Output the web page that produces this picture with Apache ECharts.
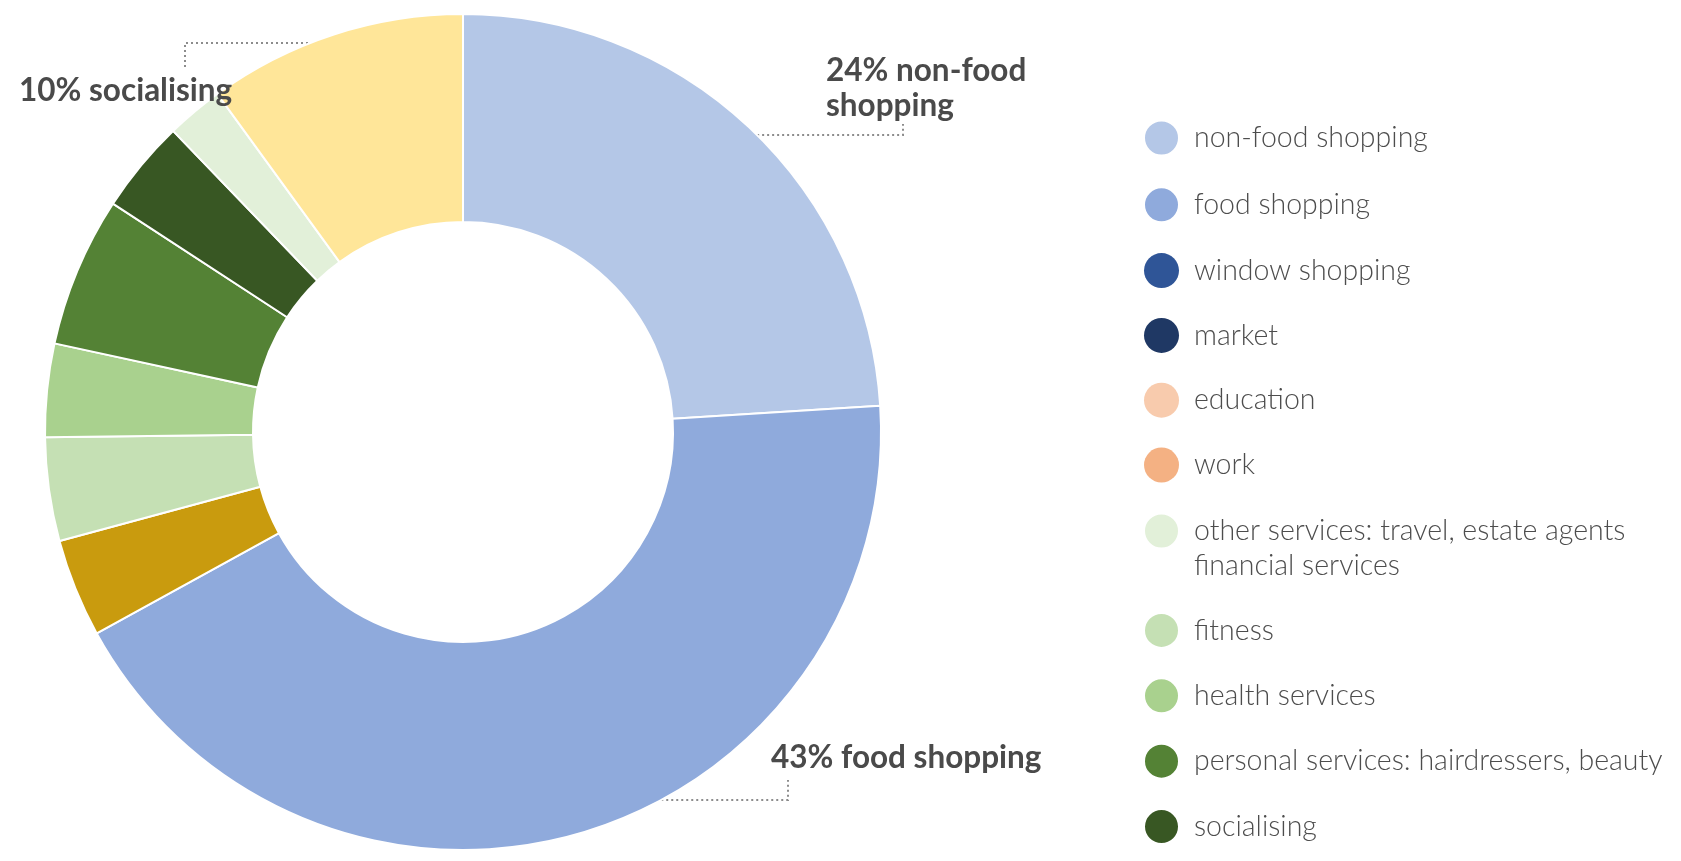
<!DOCTYPE html>
<html>
<head>
<meta charset="utf-8">
<script src="https://cdn.jsdelivr.net/npm/echarts@6/dist/echarts.min.js"></script>
<style>
  html, body { margin: 0; padding: 0; background: #ffffff; }
  #chart { width: 1681px; height: 861px; }
</style>
</head>
<body>
<div id="chart"></div>
<script>
// Slices in clockwise order from 12 o'clock (shares in %)
const categories = [
  'non-food shopping',
  'food shopping',
  'window shopping',
  'market',
  'education',
  'work',
  'other activities',
  'fitness',
  'health services',
  'personal services: hairdressers, beauty',
  'socialising',
  'other services: travel, estate agents financial services',
  'social time'
];
const values = [24, 43, 0, 0, 0, 0, 3.8, 4, 3.6, 5.8, 3.6, 2.2, 10];
const colors = [
  '#b4c7e7', '#8faadc', '#2f5597', '#1f3864', '#f8cbad', '#f4b183',
  '#c99b0e', '#c5e0b4', '#a9d18e', '#548235', '#385723', '#e2f0d9', '#ffe699'
];

// Legend columns (split so the two-line entry sits on its first line)
const legendTop = ['non-food shopping', 'food shopping', 'window shopping', 'market', 'education', 'work'];
const legendBottom = [
  'other services: travel, estate agents financial services',
  'fitness', 'health services', 'personal services: hairdressers, beauty', 'socialising'
];
const legendBreaks = {
  'other services: travel, estate agents financial services':
    '\nother services: travel, estate agents\nfinancial services'
};

// Callout labels
const calloutNames = ['non-food shopping', 'food shopping', 'social time'];
const calloutTexts = ['non-food\nshopping', 'food shopping', 'socialising'];

// Ring geometry
const CX = 463, CY = 432, R_IN = 210, R_OUT = 418;
function edgeX(y, side) {
  const dy = y - CY;
  return CX + side * Math.sqrt(Math.max(R_OUT * R_OUT - dy * dy, 0));
}
// Callout placement: label anchor and leader elbow
const calloutLayout = {
  'non-food shopping': { x: 826, y: 88, lineY: 135, side: 1, elbowX: 903, endY: 124 },
  'food shopping':     { x: 771, y: 758, lineY: 800, side: 1, elbowX: 788, endY: 780 },
  'social time':       { x: 19, y: 91, lineY: 43, side: -1, elbowX: 185, endY: 70, startX: 328 }
};

const leader = { show: true, lineStyle: { color: '#8c8c8c', width: 2, type: [2, 3] } };

const seriesData = categories.map((name, i) => {
  const item = {
    name,
    value: values[i],
    itemStyle: { color: colors[i], borderWidth: values[i] === 0 ? 0 : 2 }
  };
  const k = calloutNames.indexOf(name);
  if (k >= 0) {
    item.label = {
      show: true,
      formatter: (p) => p.value + '% ' + calloutTexts[k]
    };
    item.labelLine = leader;
  }
  return item;
});

const legendText = {
  fontFamily: 'Lato, "Open Sans", sans-serif',
  fontWeight: 300,
  fontSize: 28.5,
  color: '#4d4d4d',
  lineHeight: 35,
  padding: [0, 0, 0, 10]
};

const chart = echarts.init(document.getElementById('chart'), null, { renderer: 'canvas' });
chart.setOption({
  backgroundColor: '#ffffff',
  animation: false,
  legend: [
    {
      orient: 'vertical', left: 1143, top: 119.5, padding: 0,
      itemWidth: 35, itemHeight: 35, itemGap: 29.8, icon: 'circle',
      selectedMode: false, data: legendTop, textStyle: legendText
    },
    {
      orient: 'vertical', left: 1143, top: 478.5, padding: 0,
      itemWidth: 35, itemHeight: 35, itemGap: 28.4, icon: 'circle',
      selectedMode: false, data: legendBottom, textStyle: legendText,
      formatter: (name) => legendBreaks[name] || name
    }
  ],
  series: [{
    type: 'pie',
    center: [CX, CY],
    radius: [R_IN, R_OUT],
    startAngle: 90,
    clockwise: true,
    avoidLabelOverlap: false,
    silent: true,
    itemStyle: { borderColor: '#ffffff', borderWidth: 2 },
    label: {
      show: false,
      position: 'outside',
      fontFamily: 'Lato, "Open Sans", sans-serif',
      fontWeight: 700,
      fontSize: 31.5,
      lineHeight: 35,
      color: '#4a4a4a'
    },
    labelLine: { show: false },
    labelLayout: (params) => {
      const name = categories[params.dataIndex];
      const c = calloutLayout[name];
      if (!c) return {};
      const sx = c.startX != null ? c.startX : edgeX(c.lineY, c.side);
      return {
        x: c.x,
        y: c.y,
        align: 'left',
        verticalAlign: 'middle',
        labelLinePoints: [[sx, c.lineY], [c.elbowX, c.lineY], [c.elbowX, c.endY]]
      };
    },
    data: seriesData
  }]
});
</script>
</body>
</html>
